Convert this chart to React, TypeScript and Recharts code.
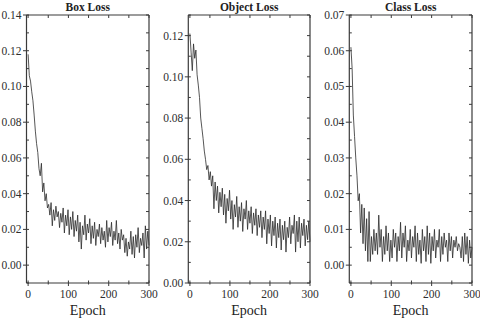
import { LineChart, Line, XAxis, YAxis } from "recharts";

const EPOCHS = [
  0, 3, 6, 9, 12, 15, 18, 21, 24, 27, 30, 33, 36, 39, 42, 45, 48, 51, 54, 57,
  60, 63, 66, 69, 72, 75, 78, 81, 84, 87, 90, 93, 96, 99, 102, 105, 108, 111,
  114, 117, 120, 123, 126, 129, 132, 135, 138, 141, 144, 147, 150, 153, 156,
  159, 162, 165, 168, 171, 174, 177, 180, 183, 186, 189, 192, 195, 198, 201,
  204, 207, 210, 213, 216, 219, 222, 225, 228, 231, 234, 237, 240, 243, 246,
  249, 252, 255, 258, 261, 264, 267, 270, 273, 276, 279, 282, 285, 288, 291,
  294, 297, 300,
];

const BOX_LOSS = [
  0.118, 0.106, 0.103, 0.097, 0.092, 0.084, 0.075, 0.068, 0.063, 0.054, 0.05,
  0.057, 0.041, 0.046, 0.036, 0.04, 0.032, 0.034, 0.028, 0.035, 0.022, 0.031,
  0.025, 0.033, 0.027, 0.03, 0.021, 0.029, 0.024, 0.032, 0.018, 0.028, 0.022,
  0.031, 0.017, 0.027, 0.02, 0.03, 0.016, 0.025, 0.019, 0.028, 0.013, 0.024,
  0.009, 0.022, 0.017, 0.028, 0.014, 0.023, 0.018, 0.026, 0.012, 0.022, 0.015,
  0.024, 0.011, 0.02, 0.016, 0.023, 0.012, 0.021, 0.014, 0.019, 0.01, 0.025,
  0.013, 0.021, 0.016, 0.024, 0.011, 0.019, 0.014, 0.025, 0.012, 0.018, 0.009,
  0.02, 0.014, 0.017, 0.007, 0.015, 0.005, 0.013, 0.009, 0.019, 0.006, 0.016,
  0.004, 0.017, 0.01, 0.021, 0.007, 0.015, 0.011, 0.018, 0.004, 0.022, 0.009,
  0.019, 0.011,
];

const OBJECT_LOSS = [
  0.121, 0.112, 0.103, 0.116, 0.109, 0.113, 0.101, 0.096, 0.09, 0.08, 0.075,
  0.07, 0.064, 0.06, 0.055, 0.057, 0.05, 0.054, 0.047, 0.052, 0.036, 0.049,
  0.04, 0.047, 0.034, 0.044, 0.037, 0.046, 0.033, 0.043, 0.029, 0.041, 0.035,
  0.045, 0.031, 0.04, 0.026, 0.038, 0.032, 0.042, 0.027, 0.037, 0.03, 0.039,
  0.025, 0.036, 0.031, 0.04, 0.026, 0.035, 0.029, 0.037, 0.024, 0.034, 0.028,
  0.036, 0.023, 0.033, 0.027, 0.035, 0.022, 0.032, 0.026, 0.035, 0.019, 0.031,
  0.024, 0.033, 0.018, 0.03, 0.023, 0.032, 0.017, 0.029, 0.022, 0.031, 0.016,
  0.028, 0.021, 0.03, 0.015, 0.027, 0.022, 0.032, 0.019, 0.028, 0.024, 0.033,
  0.015, 0.03, 0.02, 0.032, 0.017, 0.029, 0.023, 0.031, 0.018, 0.028, 0.021,
  0.03, 0.02,
];

const CLASS_LOSS = [
  0.061, 0.055, 0.042, 0.036, 0.03, 0.025, 0.018, 0.02, 0.009, 0.017, 0.006,
  0.016, 0.004, 0.013, 0.001, 0.015, 0.001, 0.008, 0.003, 0.01, 0.004, 0.009,
  0.003, 0.014, 0.005, 0.01, 0.001, 0.008, 0.003, 0.011, 0.004, 0.009, 0.001,
  0.007, 0.002, 0.01, 0.005, 0.009, 0.001, 0.008, 0.004, 0.012, 0.002, 0.009,
  0.005, 0.011, 0.001, 0.007, 0.004, 0.01, 0.002, 0.008, 0.005, 0.011, 0.001,
  0.009, 0.003, 0.007, 0.0005, 0.01, 0.004, 0.008, 0.001, 0.011, 0.003, 0.009,
  0.0005, 0.008, 0.004, 0.01, 0.002, 0.007, 0.005, 0.01, 0.001, 0.008, 0.003,
  0.009, 0.005, 0.007, 0.001, 0.009, 0.004, 0.008, 0.002, 0.007, 0.005, 0.008,
  0.004, 0.006, 0.005, 0.002, 0.008, 0.001, 0.009, 0.003, 0.008, 0.0005,
  0.007, 0.002, 0.005,
];

const EPOCH_TICKS = [0, 50, 100, 150, 200, 250, 300];
const EPOCH_LABELS = [0, 100, 200, 300];

const BOX_Y_MAJOR = [0, 0.02, 0.04, 0.06, 0.08, 0.1, 0.12, 0.14];
const BOX_Y_MINOR = [-0.01, 0.01, 0.03, 0.05, 0.07, 0.09, 0.11, 0.13];
const OBJECT_Y_MAJOR = [0, 0.02, 0.04, 0.06, 0.08, 0.1, 0.12];
const OBJECT_Y_MINOR = [0.01, 0.03, 0.05, 0.07, 0.09, 0.11, 0.13];
const CLASS_Y_MAJOR = [0, 0.01, 0.02, 0.03, 0.04, 0.05, 0.06, 0.07];
const CLASS_Y_MINOR = [-0.005, 0.005, 0.015, 0.025, 0.035, 0.045, 0.055, 0.065];

const FONT = "'Liberation Serif', 'Times New Roman', serif";
const INK = "#3a3a3a";

function LeftTick({ x, y, payload, major }: any) {
  const isMajor = major.includes(payload.value);
  return (
    <g>
      <line x1={isMajor ? x - 3.5 : x} x2={x + 2.5} y1={y} y2={y} stroke={INK} strokeWidth={1} />
      {isMajor && (
        <text
          x={x - 5}
          y={y}
          dy="0.35em"
          textAnchor="end"
          style={{ fontFamily: FONT, fontSize: 11.5, fill: "#2e2e2e" }}
        >
          {payload.value.toFixed(2)}
        </text>
      )}
    </g>
  );
}

function RightTick({ x, y }: any) {
  return <line x1={x - 3} x2={x} y1={y} y2={y} stroke={INK} strokeWidth={1} />;
}

function BottomTick({ x, y, payload }: any) {
  const isMajor = EPOCH_LABELS.includes(payload.value);
  return (
    <g>
      <line x1={x} x2={x} y1={y - 2.5} y2={y + (isMajor ? 3 : 1.5)} stroke={INK} strokeWidth={1} />
      {isMajor && (
        <text
          x={x}
          y={y + 15}
          textAnchor="middle"
          style={{ fontFamily: FONT, fontSize: 11.5, fill: "#2e2e2e" }}
        >
          {payload.value}
        </text>
      )}
    </g>
  );
}

function TopTick({ x, y }: any) {
  return <line x1={x} x2={x} y1={y} y2={y + 3} stroke={INK} strokeWidth={1} />;
}

interface PanelProps {
  title: string;
  values: number[];
  left: number;
  width: number;
  yAxisWidth: number;
  rightMargin: number;
  yDomain: [number, number];
  yMajor: number[];
  yMinor: number[];
}

function Panel({ title, values, left, width, yAxisWidth, rightMargin, yDomain, yMajor, yMinor }: PanelProps) {
  const data = EPOCHS.map((epoch, i) => ({ epoch, loss: values[i] }));
  const yTicks = [...yMajor, ...yMinor];
  const plotLeft = left + yAxisWidth;
  const plotRight = left + width - rightMargin;
  const center = (plotLeft + plotRight) / 2;
  const frame = { stroke: INK, strokeWidth: 1.2 };

  return (
    <>
      <div
        style={{
          position: "absolute",
          left: center - 60,
          width: 120,
          top: 1,
          textAlign: "center",
          fontFamily: FONT,
          fontWeight: "bold",
          fontSize: 11.5,
          lineHeight: "13px",
          color: "#222",
        }}
      >
        {title}
      </div>
      <div style={{ position: "absolute", left, top: 0 }}>
        <LineChart
          width={width}
          height={320}
          data={data}
          margin={{ top: 14, right: rightMargin - 1, bottom: 0, left: 0 }}
        >
          <XAxis
            dataKey="epoch"
            type="number"
            domain={[-4, 300]}
            ticks={EPOCH_TICKS}
            interval={0}
            height={37}
            tickSize={0}
            tickMargin={0}
            axisLine={frame}
            tickLine={false}
            tick={(p: any) => <BottomTick {...p} />}
          />
          <XAxis
            xAxisId="top"
            dataKey="epoch"
            orientation="top"
            type="number"
            domain={[-4, 300]}
            ticks={EPOCH_TICKS}
            interval={0}
            height={1}
            tickSize={0}
            tickMargin={0}
            axisLine={frame}
            tickLine={false}
            tick={(p: any) => <TopTick {...p} />}
          />
          <YAxis
            type="number"
            domain={yDomain}
            ticks={yTicks}
            interval={0}
            width={yAxisWidth}
            tickSize={0}
            tickMargin={0}
            allowDataOverflow
            axisLine={frame}
            tickLine={false}
            tick={(p: any) => <LeftTick {...p} major={yMajor} />}
          />
          <YAxis
            yAxisId="right"
            orientation="right"
            type="number"
            domain={yDomain}
            ticks={yTicks}
            interval={0}
            width={1}
            tickSize={0}
            tickMargin={0}
            allowDataOverflow
            axisLine={frame}
            tickLine={false}
            tick={(p: any) => <RightTick {...p} />}
          />
          <Line
            xAxisId="top"
            yAxisId="right"
            type="linear"
            dataKey="loss"
            stroke="none"
            dot={false}
            activeDot={false}
            isAnimationActive={false}
          />
          <Line
            type="linear"
            dataKey="loss"
            stroke="#2b2b2b"
            strokeWidth={0.8}
            dot={false}
            isAnimationActive={false}
          />
        </LineChart>
      </div>
      <div
        style={{
          position: "absolute",
          left: center - 40,
          width: 80,
          top: 303,
          textAlign: "center",
          fontFamily: FONT,
          fontSize: 14,
          lineHeight: "16px",
          color: "#222",
        }}
      >
        Epoch
      </div>
    </>
  );
}

export default function App() {
  return (
    <div style={{ position: "absolute", left: 0, top: 0, width: 480, height: 320, background: "#fff" }}>
      <Panel
        title="Box Loss"
        values={BOX_LOSS}
        left={0}
        width={160}
        yAxisWidth={26.5}
        rightMargin={11}
        yDomain={[-0.01, 0.14]}
        yMajor={BOX_Y_MAJOR}
        yMinor={BOX_Y_MINOR}
      />
      <Panel
        title="Object Loss"
        values={OBJECT_LOSS}
        left={155}
        width={165}
        yAxisWidth={33.3}
        rightMargin={10}
        yDomain={[0, 0.13]}
        yMajor={OBJECT_Y_MAJOR}
        yMinor={OBJECT_Y_MINOR}
      />
      <Panel
        title="Class Loss"
        values={CLASS_LOSS}
        left={318}
        width={162}
        yAxisWidth={31.3}
        rightMargin={8}
        yDomain={[-0.005, 0.07]}
        yMajor={CLASS_Y_MAJOR}
        yMinor={CLASS_Y_MINOR}
      />
    </div>
  );
}
